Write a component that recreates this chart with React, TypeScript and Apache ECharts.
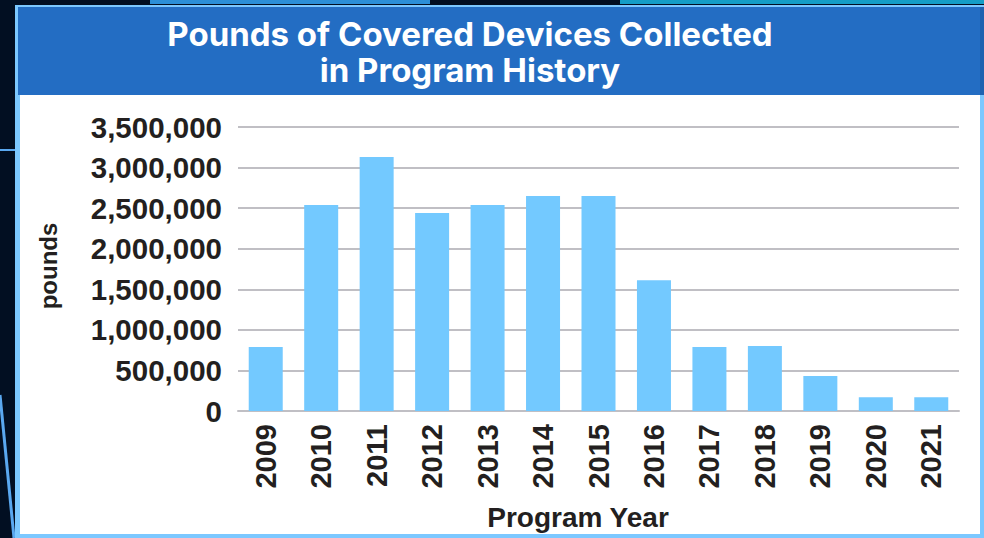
import React, { useEffect, useRef } from "react";
import * as echarts from "echarts";

const years = ["2009", "2010", "2011", "2012", "2013", "2014", "2015", "2016", "2017", "2018", "2019", "2020", "2021"];
const pounds = [790000, 2540000, 3130000, 2440000, 2540000, 2650000, 2650000, 1610000, 790000, 800000, 430000, 170000, 170000];
const titleLines = ["Pounds of Covered Devices Collected", "in Program History"];
const yAxisName = "pounds";
const xAxisName = "Program Year";

export default function App() {
  const ref = useRef<HTMLDivElement>(null);
  useEffect(() => {
    if (!ref.current) return;
    const chart = echarts.init(ref.current, null, { renderer: "svg" });
    const labelFont = "'Liberation Sans', Arial, Helvetica, sans-serif";
    chart.setOption({
      animation: false,
      backgroundColor: "#020f22",
      graphic: [
        // decorative background lines
        { type: "line", shape: { x1: 0, y1: 150, x2: 16, y2: 150 }, style: { stroke: "#5aa8f0", lineWidth: 2 }, z: -10 },
        { type: "line", shape: { x1: 0, y1: 395, x2: 14, y2: 538 }, style: { stroke: "#5aa8f0", lineWidth: 3 }, z: -10 },
        { type: "rect", shape: { x: 150, y: 0, width: 280, height: 4 }, style: { fill: "#2c8fd8" }, z: -10 },
        { type: "rect", shape: { x: 620, y: 0, width: 364, height: 4 }, style: { fill: "#19c0f0", opacity: 0.8 }, z: -10 },
        // panel frame
        { type: "rect", shape: { x: 15, y: 5, width: 969, height: 533 }, style: { fill: "#7cc8ff" }, z: -9 },
        { type: "rect", shape: { x: 18, y: 7, width: 962, height: 88 }, style: { fill: "#236dc3" }, z: -8 },
        { type: "rect", shape: { x: 980, y: 7, width: 4, height: 88 }, style: { fill: "#1e62b0" }, z: -8 },
        { type: "rect", shape: { x: 20, y: 95, width: 960, height: 439 }, style: { fill: "#ffffff" }, z: -8 },
        // title
        {
          type: "text",
          x: 470,
          y: 16,
          style: {
            text: titleLines.join("\n"),
            fill: "#ffffff",
            font: "bold 33px Inter, 'Liberation Sans', Arial, sans-serif",
            textAlign: "center",
            textVerticalAlign: "top",
            lineHeight: 36,
          },
        },
        // axis names
        {
          type: "text",
          x: 48,
          y: 266,
          rotation: Math.PI / 2,
          style: {
            text: yAxisName,
            fill: "#231f20",
            font: "bold 24px " + labelFont,
            textAlign: "center",
            textVerticalAlign: "middle",
          },
        },
        {
          type: "text",
          x: 578,
          y: 517,
          style: {
            text: xAxisName,
            fill: "#231f20",
            font: "bold 28px " + labelFont,
            textAlign: "center",
            textVerticalAlign: "middle",
          },
        },
      ],
      grid: { left: 238, right: 25, top: 127, bottom: 127 },
      xAxis: {
        type: "category",
        data: years,
        axisTick: { show: false },
        axisLine: { lineStyle: { color: "#c0bfc4", width: 2 } },
        axisLabel: {
          rotate: 90,
          interval: 0,
          margin: 13,
          color: "#231f20",
          fontSize: 29,
          fontWeight: "bold",
          fontFamily: labelFont,
        },
      },
      yAxis: {
        type: "value",
        min: 0,
        max: 3500000,
        interval: 500000,
        axisLine: { show: false },
        axisTick: { show: false },
        splitLine: { lineStyle: { color: "#c0bfc4", width: 2 } },
        axisLabel: {
          margin: 16,
          color: "#231f20",
          fontSize: 29.5,
          fontWeight: "bold",
          fontFamily: labelFont,
          formatter: (v: number) => v.toLocaleString("en-US"),
        },
      },
      series: [
        {
          type: "bar",
          data: pounds,
          barWidth: 34,
          itemStyle: { color: "#73c9ff" },
        },
      ],
    });
    return () => chart.dispose();
  }, []);
  return <div ref={ref} style={{ position: "fixed", left: 0, top: 0, width: 984, height: 538 }} />;
}
